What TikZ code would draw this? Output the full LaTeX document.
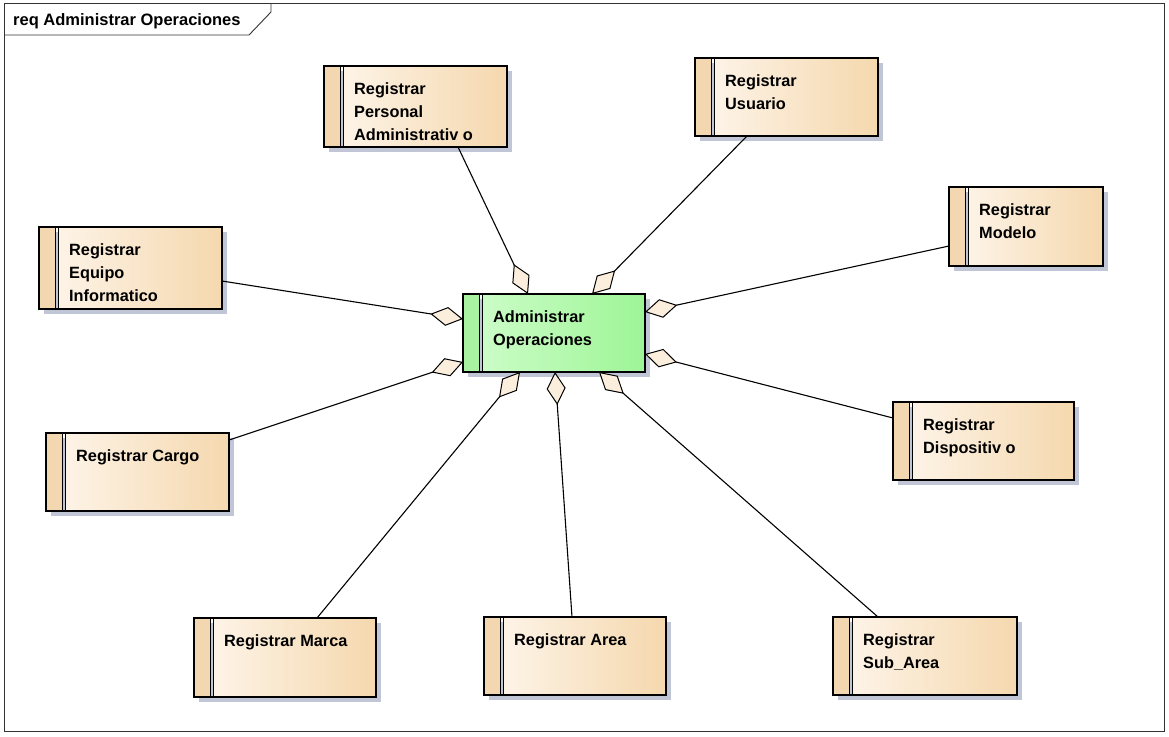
\documentclass[tikz,border=0pt]{standalone}
\usepackage{fontspec}
\setmainfont{Liberation Sans}
\usetikzlibrary{arrows.meta}

\definecolor{tanL}{HTML}{FDF3E6}
\definecolor{tanR}{HTML}{F5D8AE}
\definecolor{tanS}{HTML}{F2D7B0}
\definecolor{grnL}{HTML}{CBFCC6}
\definecolor{grnR}{HTML}{9DF597}
\definecolor{grnS}{HTML}{A8F2A2}
\definecolor{shadowc}{HTML}{C0C6D6}
\definecolor{diamc}{HTML}{FBEEDC}

\tikzset{
  boxframe/.style={draw=black, line width=1.3pt},
  reqtext/.style={anchor=north west, inner sep=0pt, align=left,
    font=\fontsize{16.3}{23}\selectfont\bfseries},
  agg/.style={draw=black, line width=1.1pt,
    -{Diamond[length=33pt,width=19pt,fill=diamc,line width=1pt]}},
}

% requirement box: name, x1, y1, x2, y2, colour prefix, text
\newcommand\reqbox[7]{%
  \fill[shadowc] (#2+5,#3+5) rectangle (#4+5,#5+5);
  \node[inner sep=0pt, outer sep=0pt, anchor=north west,
        minimum width={(#4-#2)*1pt}, minimum height={(#5-#3)*1pt}] (#1) at (#2,#3) {};
  \shade[left color=#6L, right color=#6R]
    ([xshift=19pt]#1.north west) rectangle (#1.south east);
  \fill[#6S] (#1.north west) rectangle ([xshift=16pt]#1.south west);
  \draw[line width=1pt] ([xshift=16pt]#1.north west) -- ([xshift=16pt]#1.south west);
  \draw[line width=1pt] ([xshift=19pt]#1.north west) -- ([xshift=19pt]#1.south west);
  \draw[boxframe] (#1.north west) rectangle (#1.south east);
  \node[reqtext] (#1-t) at ([xshift=30pt,yshift=-16pt]#1.north west) {#7};
}

\begin{document}
\begin{tikzpicture}[x=1pt,y=-1pt]
\useasboundingbox (0,0) rectangle (1169,736);
\fill[white] (0,0) rectangle (1169,736);

% diagram frame and its name tab
\draw[line width=0.9pt, draw=black!80] (4,3) rectangle (1164,731);
\draw[line width=0.9pt, draw=black!80] (4,35) -- (249,35) -- (271,12) -- (271,3);
\node[inner sep=0pt, anchor=base west, font=\fontsize{16.5}{20}\selectfont\bfseries]
  (title) at (13,25) {req Administrar Operaciones};

% requirements
\reqbox{adm}{463}{294}{645}{372}{grn}{Administrar\\Operaciones}
\reqbox{pers}{324}{66}{507}{147}{tan}{Registrar\\Personal\\Administrativ o}
\reqbox{usu}{695}{58}{878}{136}{tan}{Registrar\\Usuario}
\reqbox{mod}{949}{187}{1103}{266}{tan}{Registrar\\Modelo}
\reqbox{equ}{39}{227}{222}{309}{tan}{Registrar\\Equipo\\Informatico}
\reqbox{car}{46}{433}{229}{511}{tan}{Registrar Cargo}
\reqbox{dis}{893}{402}{1074}{480}{tan}{Registrar\\Dispositiv o}
\reqbox{mar}{194}{618}{376}{697}{tan}{Registrar Marca}
\reqbox{are}{484}{617}{666}{695}{tan}{Registrar Area}
\reqbox{sub}{833}{617}{1017}{695}{tan}{Registrar\\Sub\_Area}

% aggregation connectors into the central requirement
\draw[agg] ([xshift=134pt]pers.south west) -- ([xshift=65pt]adm.north west);
\draw[agg] ([xshift=52pt]usu.south west) -- ([xshift=129pt]adm.north west);
\draw[agg] ([yshift=-59pt]mod.north west) -- ([yshift=-18pt]adm.north east);
\draw[agg] ([yshift=-54pt]equ.north east) -- ([yshift=-25pt]adm.north west);
\draw[agg] ([yshift=-7pt]car.north east) -- ([yshift=-68pt]adm.north west);
\draw[agg] ([yshift=-16pt]dis.north west) -- ([yshift=-60pt]adm.north east);
\draw[agg] ([xshift=123pt]mar.north west) -- ([xshift=57pt]adm.south west);
\draw[agg] ([xshift=88pt]are.north west) -- ([xshift=92pt]adm.south west);
\draw[agg] ([xshift=45pt]sub.north west) -- ([xshift=136pt]adm.south west);
\end{tikzpicture}
\end{document}
